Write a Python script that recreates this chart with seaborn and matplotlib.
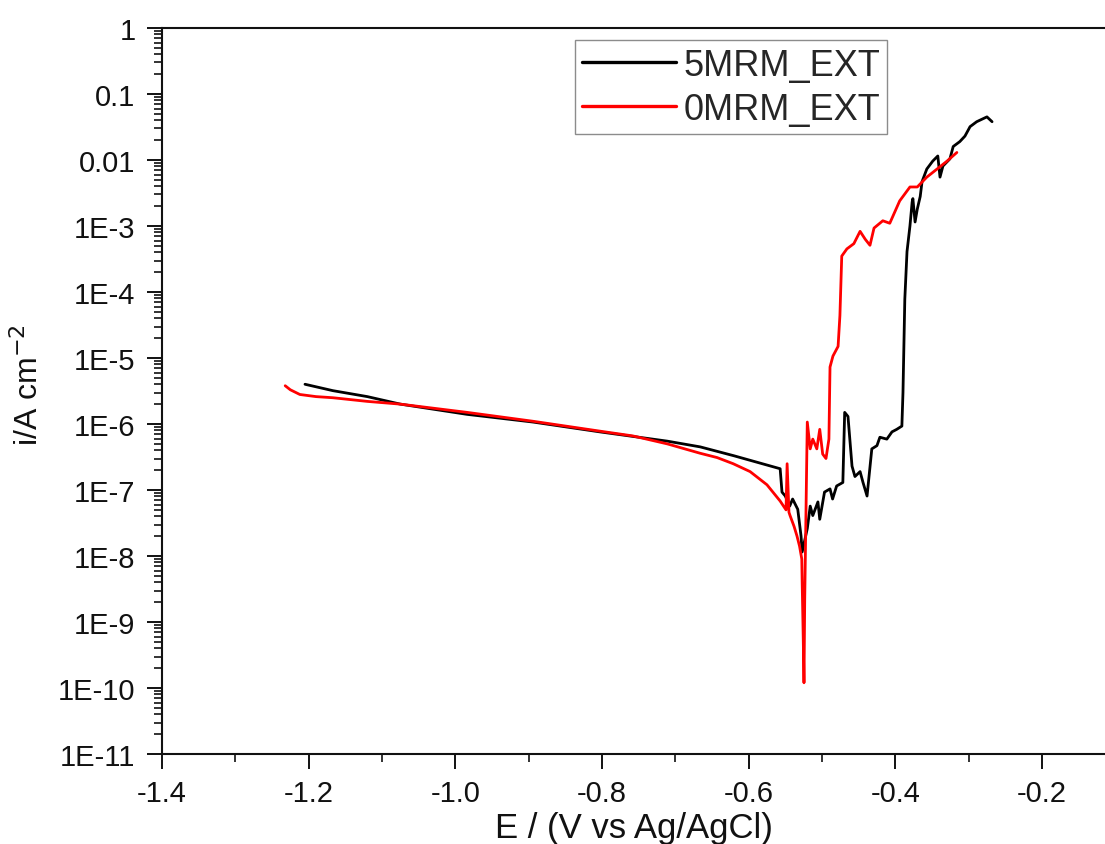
import numpy as np
import pandas as pd
import matplotlib
matplotlib.use("Agg")
import matplotlib.pyplot as plt
import matplotlib.ticker as mticker
import seaborn as sns

# potential (V vs Ag/AgCl) and current density (A cm^-2)
e_5mrm = [-1.205, -1.167, -1.120, -1.075, -0.984, -0.894, -0.803, -0.711, -0.666,
          -0.620, -0.557, -0.5545, -0.550, -0.544, -0.540, -0.533, -0.5285, -0.527,
          -0.520, -0.516, -0.5125, -0.5055, -0.503, -0.4965, -0.489, -0.4855,
          -0.480, -0.4715, -0.469, -0.4645, -0.459, -0.455, -0.448, -0.444,
          -0.4385, -0.432, -0.425, -0.421, -0.4115, -0.4045, -0.398, -0.391,
          -0.3895, -0.387, -0.384, -0.380, -0.377, -0.376, -0.373, -0.370,
          -0.366, -0.3635, -0.357, -0.349, -0.342, -0.339, -0.335, -0.3255,
          -0.321, -0.312, -0.305, -0.298, -0.289, -0.275, -0.268]
i_5mrm = [4.0e-6, 3.2e-6, 2.6e-6, 2.0e-6, 1.4e-6, 1.07e-6, 7.6e-7, 5.5e-7, 4.5e-7,
          3.3e-7, 2.1e-7, 9.3e-8, 8.1e-8, 5.7e-8, 7.3e-8, 5.1e-8, 2.0e-8, 1.15e-8,
          2.6e-8, 5.7e-8, 4.1e-8, 6.6e-8, 3.6e-8, 9.3e-8, 1.04e-7, 7.3e-8,
          1.15e-7, 1.3e-7, 1.5e-6, 1.3e-6, 2.3e-7, 1.6e-7, 1.9e-7, 1.3e-7,
          8.1e-8, 4.2e-7, 4.7e-7, 6.3e-7, 5.9e-7, 7.6e-7, 8.3e-7, 9.3e-7,
          3.0e-6, 7.8e-5, 4.1e-4, 1.0e-3, 2.3e-3, 2.6e-3, 1.15e-3, 1.8e-3,
          2.8e-3, 4.7e-3, 7.3e-3, 9.6e-3, 1.15e-2, 5.5e-3, 8.1e-3, 1.04e-2,
          1.6e-2, 1.9e-2, 2.3e-2, 3.2e-2, 3.8e-2, 4.5e-2, 3.8e-2]

e_0mrm = [-1.232, -1.225, -1.212, -1.190, -1.167, -1.120, -1.075, -0.984, -0.894,
          -0.803, -0.758, -0.711, -0.666, -0.643, -0.621, -0.598, -0.575, -0.557,
          -0.549, -0.5475, -0.545, -0.5435, -0.538, -0.534, -0.5305, -0.5275,
          -0.527, -0.5255, -0.5245, -0.5235, -0.520,
          -0.516, -0.5125, -0.507, -0.503, -0.499, -0.4945, -0.4905, -0.489,
          -0.485, -0.478, -0.4755, -0.473, -0.466, -0.4565, -0.448, -0.441,
          -0.4345, -0.429, -0.417, -0.4075, -0.394, -0.380, -0.370, -0.357,
          -0.343, -0.3295, -0.316]
i_0mrm = [3.8e-6, 3.3e-6, 2.8e-6, 2.6e-6, 2.5e-6, 2.2e-6, 2.0e-6, 1.5e-6, 1.1e-6,
          7.8e-7, 6.6e-7, 5.0e-7, 3.6e-7, 3.1e-7, 2.5e-7, 1.9e-7, 1.2e-7, 6.8e-8,
          5.0e-8, 2.5e-7, 4.6e-8, 4.1e-8, 2.8e-8, 2.0e-8, 1.4e-8, 9.0e-9,
          4.1e-9, 5.5e-10, 1.2e-10, 2.2e-9, 1.07e-6,
          4.2e-7, 5.9e-7, 4.2e-7, 8.3e-7, 3.5e-7, 3.0e-7, 5.9e-7, 7.3e-6,
          1.07e-5, 1.5e-5, 4.4e-5, 3.5e-4, 4.5e-4, 5.4e-4, 8.3e-4, 6.3e-4,
          5.1e-4, 9.3e-4, 1.2e-3, 1.1e-3, 2.4e-3, 3.9e-3, 3.9e-3, 5.5e-3,
          7.3e-3, 9.6e-3, 1.3e-2]

series_names = ["5MRM_EXT", "0MRM_EXT"]
series_colors = ["#000000", "#ff0000"]

df = pd.concat([
    pd.DataFrame({"E": e_5mrm, "i": i_5mrm, "sample": series_names[0]}),
    pd.DataFrame({"E": e_0mrm, "i": i_0mrm, "sample": series_names[1]}),
], ignore_index=True)

sns.set_theme(style="ticks")
plt.rcParams["font.family"] = ["Liberation Sans", "DejaVu Sans"]

fig = plt.figure(figsize=(11.05, 8.45), dpi=100)
ax = fig.add_axes([0.1466, 0.1065, 1.0 - 0.1466, 0.9657 - 0.1065])

sns.lineplot(data=df, x="E", y="i", hue="sample", palette=series_colors,
             hue_order=series_names, sort=False, estimator=None,
             linewidth=2.0, ax=ax)

ax.set_yscale("log")
ax.set_ylim(1e-11, 1)
ax.set_xlim(-1.4, -0.114)

ax.xaxis.set_major_locator(mticker.MultipleLocator(0.2))
ax.xaxis.set_minor_locator(mticker.MultipleLocator(0.1))
ax.xaxis.set_major_formatter(mticker.FormatStrFormatter("%.1f"))

ax.yaxis.set_major_locator(mticker.LogLocator(base=10, numticks=20))
ax.yaxis.set_minor_locator(mticker.LogLocator(base=10, subs=np.arange(2, 10), numticks=20))


def ylab(v, pos):
    p = int(round(np.log10(v)))
    if p >= 0:
        return f"{10 ** p:d}"
    if p >= -2:
        return f"{v:.{-p}f}"
    return f"1E{p}"


ax.yaxis.set_major_formatter(mticker.FuncFormatter(ylab))
ax.yaxis.set_minor_formatter(mticker.NullFormatter())

ax.tick_params(which="major", direction="out", length=10.5, width=1.4,
               labelsize=21, colors="#111111")
ax.tick_params(axis="y", which="major", pad=8.5)
ax.tick_params(axis="x", which="major", pad=7.5)
ax.tick_params(which="minor", direction="out", length=5.5, width=1.2,
               colors="#111111")

for side in ["left", "bottom", "top"]:
    ax.spines[side].set_linewidth(1.5)
    ax.spines[side].set_color("#111111")
ax.spines["right"].set_visible(False)

ax.set_xlabel("E / (V vs Ag/AgCl)", fontsize=25, labelpad=3, color="#111111")
ax.set_ylabel("i/A cm$^{-2}$", fontsize=23, color="#111111")
ax.yaxis.set_label_coords(-0.124, 0.51)

handles, labels = ax.get_legend_handles_labels()
leg = ax.legend(handles, labels, loc="upper left", bbox_to_anchor=(0.438, 0.983),
                fontsize=26, frameon=True, fancybox=False, framealpha=1,
                edgecolor="#8c8c8c", handlelength=2.6, handletextpad=0.2,
                borderpad=0.2, labelspacing=0.25, borderaxespad=0)
leg.get_frame().set_linewidth(1.0)
for line in leg.get_lines():
    line.set_linewidth(2.4)

fig.savefig("out.png", dpi=100)
